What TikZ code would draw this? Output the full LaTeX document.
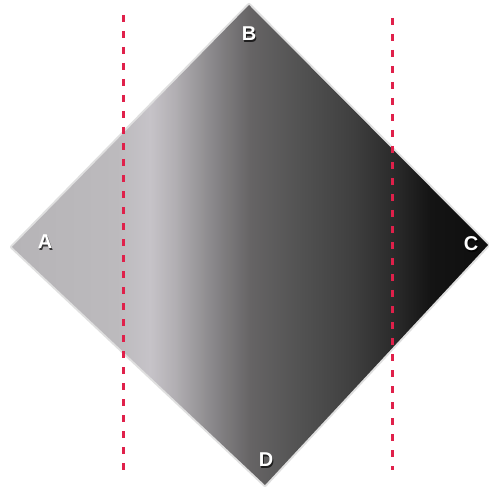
\documentclass[tikz,border=0pt]{standalone}
\usepackage{fontspec}
\setmainfont{Liberation Sans}
\definecolor{cutred}{HTML}{E0204A}
\definecolor{c0}{HTML}{B6B4B7}
\definecolor{c1}{HTML}{BCBABD}
\definecolor{c2}{HTML}{C6C3C8}
\definecolor{c3}{HTML}{B2AFB3}
\definecolor{c4}{HTML}{979598}
\definecolor{c5}{HTML}{7E7C7E}
\definecolor{c6}{HTML}{666465}
\definecolor{c7}{HTML}{525252}
\definecolor{c8}{HTML}{404040}
\definecolor{c9}{HTML}{272727}
\definecolor{c10}{HTML}{141414}
\definecolor{c11}{HTML}{0E0E0E}
\pgfdeclarehorizontalshading{diagshade}{100bp}{
  color(0bp)=(c0);
  color(25bp)=(c0);
  color(36bp)=(c1);
  color(39.5bp)=(c2);
  color(42.1bp)=(c3);
  color(44.7bp)=(c4);
  color(47.3bp)=(c5);
  color(50bp)=(c6);
  color(55.3bp)=(c7);
  color(60.5bp)=(c8);
  color(65.8bp)=(c9);
  color(68.9bp)=(c10);
  color(75bp)=(c11);
  color(100bp)=(c11)}
\begin{document}
\begin{tikzpicture}[x=1pt,y=1pt,
  cutline/.style={cutred, line width=3pt, dash pattern=on 7pt off 9pt},
  vlabel/.style={text=white, font=\bfseries\fontsize{20}{20}\selectfont, inner sep=0pt},
  vshadow/.style={text=black, opacity=0.7, font=\bfseries\fontsize{20}{20}\selectfont, inner sep=0pt}]
\useasboundingbox (0,0) rectangle (489,488);
\fill[white] (0,0) rectangle (489,488);
\coordinate (A) at (12,241);
\coordinate (B) at (249,483);
\coordinate (C) at (488,243);
\coordinate (D) at (265,3);
% soft edge
\draw[gray!70, line width=4pt, opacity=0.35, line join=round] (A) -- (B) -- (C) -- (D) -- cycle;
\shade[shading=diagshade] (A) -- (B) -- (C) -- (D) -- cycle;
% cut lines
\coordinate (L1t) at (123,473);
\coordinate (L1b) at (123,18);
\coordinate (L2t) at (392,470);
\coordinate (L2b) at (392,18);
\draw[cutline] (L1t) -- (L1b);
\draw[cutline] (L2t) -- (L2b);
% labels
\node[vshadow] (As) at (46.2,244.8) {A};
\node[vshadow] (Bs) at (250.2,452.8) {B};
\node[vshadow] (Cs) at (472.2,242.8) {C};
\node[vshadow] (Ds) at (267.2,26.8) {D};
\node[vlabel] (Al) at (45,246) {A};
\node[vlabel] (Bl) at (249,454) {B};
\node[vlabel] (Cl) at (471,244) {C};
\node[vlabel] (Dl) at (266,28) {D};
\end{tikzpicture}
\end{document}
